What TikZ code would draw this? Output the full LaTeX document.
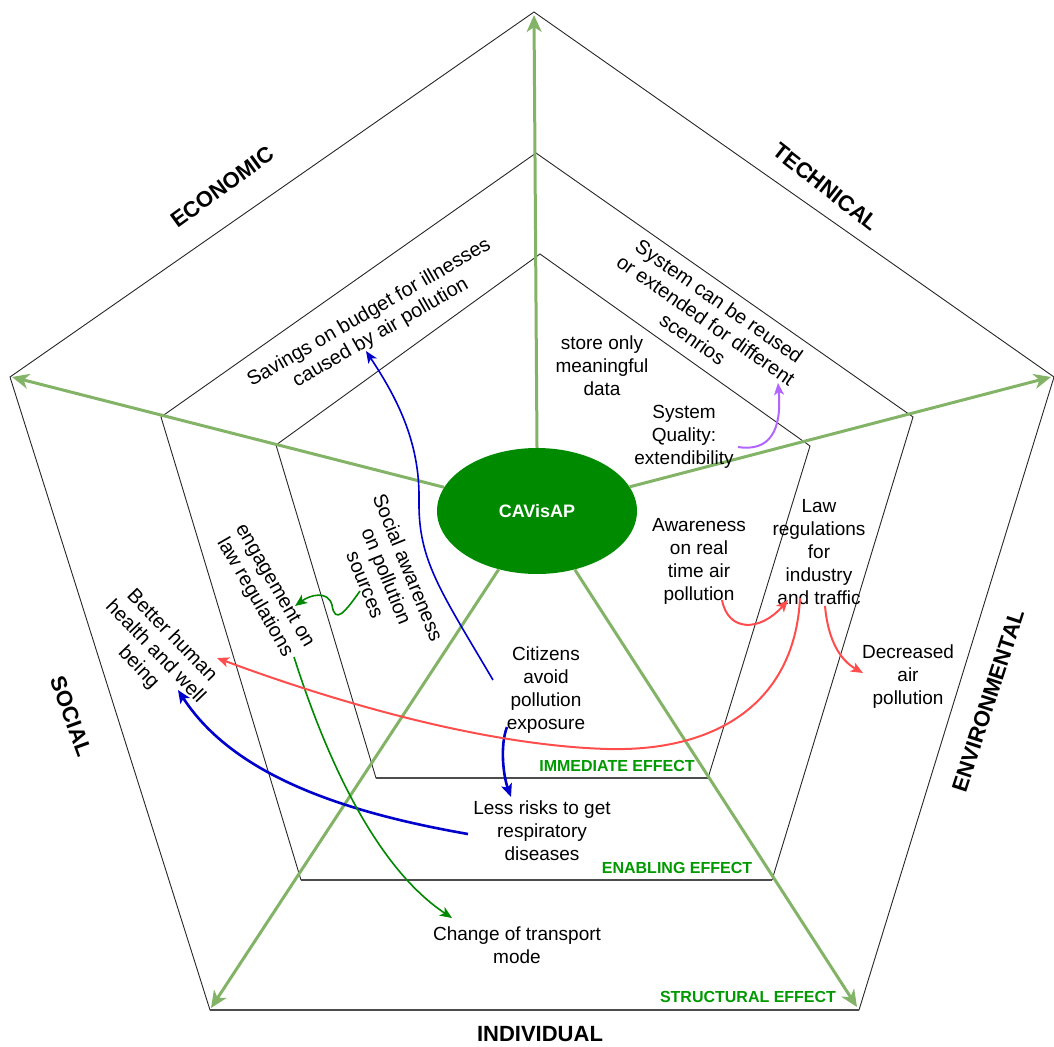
\documentclass[tikz,border=0pt]{standalone}
\usepackage{fontspec}
\setmainfont{Liberation Sans}
\usetikzlibrary{arrows.meta,shapes.geometric}
\definecolor{axisgreen}{HTML}{82B366}
\definecolor{corefill}{HTML}{008A00}
\definecolor{effgreen}{HTML}{009900}
\definecolor{arrblue}{HTML}{0000CC}
\definecolor{arrred}{HTML}{FF4D4D}
\definecolor{arrgreen}{HTML}{008800}
\definecolor{arrpurple}{HTML}{B266FF}

\begin{document}
\begin{tikzpicture}[x=1pt,y=-1pt,
  frame/.style={draw=black!85, line width=0.9pt, line join=miter},
  base/.style={draw=black!70, line width=1.8pt},
  axis/.style={draw=axisgreen, line width=3pt, -{Stealth[length=17pt,width=15pt,inset=5pt]}},
  txt/.style={align=center, font=\fontsize{19}{23}\selectfont, inner sep=0pt},
  rtxt/.style={align=center, font=\fontsize{20}{23}\selectfont, inner sep=0pt},
  dim/.style={font=\fontsize{22}{26}\selectfont\bfseries, inner sep=0pt},
  eff/.style={font=\fontsize{16}{19}\selectfont\bfseries, text=effgreen, inner sep=0pt},
  linkthin/.style={line width=1.6pt, -{Stealth[length=12pt,width=10pt,inset=3pt]}},
  linkbold/.style={line width=2.6pt, -{Stealth[length=13pt,width=11pt,inset=3pt]}},
]
\useasboundingbox (0,0) rectangle (1054,1046);

% pentagon vertices: outer (structural), middle (enabling), inner (immediate)
\coordinate (oT) at (534,12);  \coordinate (oL) at (10,377);  \coordinate (oR) at (1054,377);
\coordinate (oBL) at (210,1010); \coordinate (oBR) at (859,1010);
\coordinate (mT) at (536,153); \coordinate (mL) at (161,417); \coordinate (mR) at (913,417);
\coordinate (mBL) at (301,880); \coordinate (mBR) at (772,880);
\coordinate (iT) at (540,254); \coordinate (iL) at (276,445); \coordinate (iR) at (810,446);
\coordinate (iBL) at (376,778); \coordinate (iBR) at (708,778);

\draw[frame] (oT) -- (oL) -- (oBL) -- (oBR) -- (oR) -- cycle;
\draw[frame] (mT) -- (mL) -- (mBL) -- (mBR) -- (mR) -- cycle;
\draw[frame] (iT) -- (iL) -- (iBL) -- (iBR) -- (iR) -- cycle;
\draw[base] (oBL) -- (oBR);
\draw[base] (mBL) -- (mBR);
\draw[base] (iBL) -- (iBR);

% centre and the five dimension axes
\node[ellipse, fill=corefill, minimum width=200pt, minimum height=126pt, inner sep=0pt,
      font=\fontsize{18}{22}\selectfont\bfseries, text=white] (core) at (537,511) {CAVisAP};
\coordinate (tipT) at (534,15);
\coordinate (tipL) at (12,377);
\coordinate (tipR) at (1051,377);
\coordinate (tipBL) at (211,1008);
\coordinate (tipBR) at (857,1007);
\draw[axis] (core.north) -- (tipT);
\draw[axis] (core) -- (tipL);
\draw[axis] (core) -- (tipR);
\draw[axis] (core) -- (tipBL);
\draw[axis] (core) -- (tipBR);

% dimension names
\node[dim, rotate=36] (econ) at (222,187) {ECONOMIC};
\node[dim, rotate=-38] (tech) at (826,187) {TECHNICAL};
\node[dim, rotate=-70] (social) at (71,716) {SOCIAL};
\node[dim, rotate=72] (envir) at (988,701) {ENVIRONMENTAL};
\node[dim] (indiv) at (540,1034) {INDIVIDUAL};

% effect levels
\node[eff] (imm) at (617,766) {IMMEDIATE EFFECT};
\node[eff] (enab) at (677,868) {ENABLING EFFECT};
\node[eff] (struct) at (748,997) {STRUCTURAL EFFECT};

% effects
\node[rtxt, rotate=30] (savings) at (375,323) {Savings on budget for illnesses\\caused by air pollution};
\node[rtxt, rotate=-35] (reuse) at (706,320) {System can be reused\\or extended for different\\scenrios};
\node[txt] (store) at (602,366) {store only\\meaningful\\data};
\node[txt] (quality) at (684,437) {System\\Quality:\\extendibility};
\node[rtxt, rotate=-68] (socaw) at (387,576) {Social awareness\\on pollution\\sources};
\node[rtxt, rotate=-60] (engage) at (264,592) {engagement on\\law regulations};
\node[rtxt, rotate=-46] (better) at (155,652) {Better human\\health and well\\being};
\node[txt] (citizens) at (546,690) {Citizens\\avoid\\pollution\\exposure};
\node[txt] (lessrisk) at (542,831) {Less risks to get\\respiratory\\diseases};
\node[txt] (change) at (517,945) {Change of transport\\mode};
\node[txt] (aware) at (699,561) {Awareness\\on real\\time air\\pollution};
\node[txt] (law) at (819,552) {Law\\regulations\\for\\industry\\and traffic};
\node[txt] (decr) at (908,677) {Decreased\\air\\pollution};

% connector ends
\coordinate (citOut) at (493,680);
\coordinate (savIn) at (366,351);
\coordinate (expOut) at (507,727);
\coordinate (lessIn) at (511,797);
\coordinate (lessOut) at (468,834);
\coordinate (betIn) at (178,690);
\coordinate (socOut) at (360,591);
\coordinate (engIn) at (295,606);
\coordinate (engOut) at (294,657);
\coordinate (chgIn) at (452,918);
\coordinate (lawOutA) at (800,598);
\coordinate (betInB) at (217,658);
\coordinate (awOut) at (722,600);
\coordinate (lawIn) at (788,600);
\coordinate (lawOutB) at (825,606);
\coordinate (decIn) at (863,673);
\coordinate (qualOut) at (738,447);
\coordinate (reuseIn) at (778,383);

% connectors
\draw[linkthin, arrblue] (citOut) .. controls (440,590) and (418,560) .. (419,500)
                         .. controls (420,440) and (395,395) .. (savIn);
\draw[linkbold, arrblue] (expOut) .. controls (500,745) and (503,775) .. (lessIn);
\draw[linkbold, arrblue] (lessOut) .. controls (330,810) and (230,770) .. (betIn);
\draw[linkthin, arrgreen] (socOut) .. controls (345,612) and (335,625) .. (332,605)
                          .. controls (328,590) and (310,595) .. (engIn);
\draw[linkthin, arrgreen] (engOut) .. controls (330,770) and (380,870) .. (chgIn);
\draw[linkthin, arrred, line width=2pt] (lawOutA) .. controls (795,700) and (720,752) .. (607,749)
                        .. controls (480,745) and (330,700) .. (betInB);
\draw[linkthin, arrred, line width=2pt] (awOut) .. controls (728,632) and (760,632) .. (lawIn);
\draw[linkthin, arrred, line width=2pt] (lawOutB) .. controls (828,640) and (840,660) .. (decIn);
\draw[linkthin, arrpurple, line width=2pt] (qualOut) .. controls (770,452) and (782,430) .. (reuseIn);
\end{tikzpicture}
\end{document}
